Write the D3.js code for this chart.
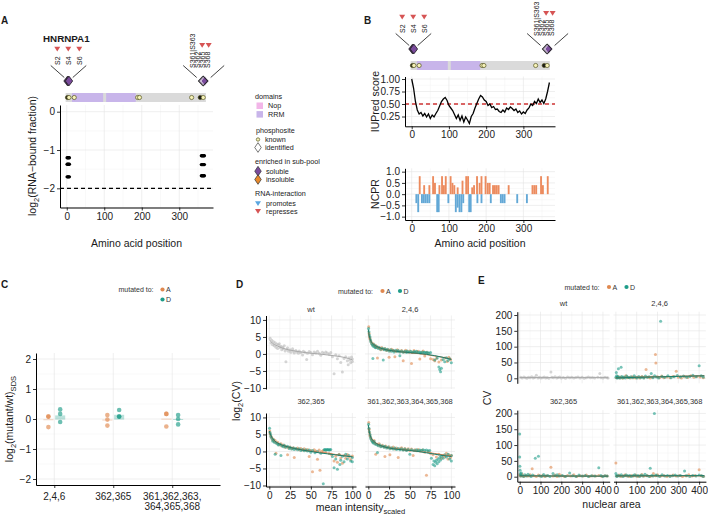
<!DOCTYPE html>
<html><head><meta charset="utf-8">
<script src="https://cdn.jsdelivr.net/npm/d3@7/dist/d3.min.js"></script>
<style>html,body{margin:0;padding:0;background:#fff}</style>
</head><body>
<svg id="fig" width="708" height="516" xmlns="http://www.w3.org/2000/svg"></svg>
<script>
// ===================== DATA =====================
const proteinName = "HNRNPA1";
const barRange = [-3, 371];
const rrmDomains = [[14, 97], [105, 184]];
const knownSites = [2, 6, 20, 189, 194, 333, 356, 364];
const knownDark = [true, false, false, false, false, false, true, false];
const leftSitePos = [2, 4, 6];
const leftSiteLabels = ["S2", "S4", "S6"];
const rightSitePos = [361, 362, 363, 365, 368];
const rightSiteLabels = ["S361|S363", "S362", "S365", "S368"];
const aaTicks = [0, 100, 200, 300];

// Panel A: log2(RNA-bound fraction)
const rnaLeftSites = [1, 3, 5, 7];
const rnaLeftValues = [-1.2, -1.37, -1.7];
const rnaRightSites = [359, 361, 363, 365, 367];
const rnaRightValues = [-1.15, -1.38, -1.67];
const rnaThreshold = -2;

// Legend A
const legendDomains = ["Nop", "RRM"];
const legendPhospho = ["known", "identified"];
const legendPool = ["soluble", "insoluble"];
const legendRna = ["promotes", "represses"];

// Panel B: IUPred
const iupredPos = [0,5,10,15,20,25,30,35,40,45,50,55,60,65,70,75,80,85,90,95,100,105,110,115,120,125,130,135,140,145,150,155,160,165,170,175,180,185,190,195,200,205,210,215,220,225,230,235,240,245,250,255,260,265,270,275,280,285,290,295,300,305,310,315,320,325,330,335,340,345,350,355,360,365,370];
const iupredScore = [1.0,0.82,0.55,0.38,0.30,0.33,0.26,0.31,0.24,0.30,0.21,0.28,0.24,0.31,0.37,0.46,0.55,0.60,0.63,0.57,0.47,0.42,0.37,0.29,0.21,0.28,0.17,0.26,0.14,0.24,0.18,0.11,0.25,0.31,0.42,0.51,0.60,0.67,0.64,0.58,0.55,0.47,0.50,0.43,0.45,0.39,0.40,0.35,0.33,0.38,0.34,0.42,0.39,0.44,0.41,0.37,0.40,0.33,0.36,0.30,0.34,0.31,0.38,0.42,0.50,0.47,0.55,0.51,0.60,0.53,0.58,0.51,0.60,0.75,0.93];
const iupredThreshold = 0.5;

// Panel B: NCPR blocks (start residue, value)
const ncprStart = [10,15,25,30,35,40,45,66,70,96,116,121,126,131,136,152,156,174,185,210,237,242,247,281,307,
  19,31,45,55,60,72,79,84,89,102,107,112,121,134,144,149,160,165,173,180,185,196,202,207,216,221,226,231,258,322,327,332,345,350,363];
const ncprValue = [-0.4,-0.8,-0.4,-0.4,-0.4,-0.4,-0.4,-0.8,-0.8,-0.4,-0.8,-0.6,-0.8,-0.8,-0.4,-0.8,-0.8,-0.4,-0.4,-0.4,-0.4,-0.4,-0.4,-0.4,-0.4,
  0.8,0.4,0.4,0.8,0.5,0.4,0.8,0.4,0.8,0.8,0.5,0.4,0.3,0.6,0.8,0.8,0.3,0.4,0.8,0.5,0.8,0.8,0.5,0.5,0.4,0.4,0.4,0.4,0.4,0.4,0.4,0.4,0.8,0.4,0.8];

// Panel C
const cGroups = ["2,4,6", "362,365", "361,362,363,|364,365,368"];
const cValuesA = [[0.08, 0.08, -0.27], [0.13, -0.02, -0.22], [0.17, 0.17, -0.25]];
const cValuesD = [[0.32, 0.17, -0.1], [0.3, 0.08, 0.08], [0.13, 0.0, -0.18]];
const cMeanA = [-0.02, -0.03, 0.0];
const cHalfA = [0.012, 0.012, 0.012];
const cMeanD = [0.05, 0.06, 0.0];
const cHalfD = [0.07, 0.08, 0.0];

// Panel D: log2(CV) vs mean intensity
const dWt = [[1,4.6],[2,3.2],[3,4.0],[4,2.7],[5,3.6],[6,2.4],[7,3.3],[8,2.0],[9,2.9],[10,1.6],[11,2.6],[12,3.0],[13,1.9],[14,2.3],[15,1.2],[16,2.0],[17,1.5],[18,2.4],[19,0.9],[20,-2.3],[21,1.4],[22,1.8],[23,0.8],[25,1.2],[26,0.5],[28,1.5],[29,0.9],[30,0.3],[32,1.0],[33,0.6],[35,0.2],[36,0.9],[38,0.4],[40,-0.3],[41,0.8],[43,0.5],[45,-1.6],[46,0.2],[48,0.7],[50,0.4],[52,-0.2],[54,0.6],[56,0.3],[58,0.8],[60,0.2],[62,-0.4],[64,0.5],[66,0.1],[68,0.6],[70,0.3],[72,-0.1],[74,0.4],[76,-0.8],[78,-5.8],[80,-0.2],[82,-1.4],[84,-0.5],[86,-2.5],[88,-5.3],[90,-1.3],[92,-0.8],[94,-2.0],[95,-3.2],[96,-1.1],[97,-1.8],[98,-2.6],[99,-0.9],[100,-1.5],[100,-2.2]];
const d246A = [[0.5,8],[1,6],[1.5,5],[2,4.5],[3,3.8],[4,3.2],[5,2.8],[6,3.0],[7,2.4],[8,2.2],[9,2.5],[10,1.9],[11,-1.2],[12,2.0],[14,1.7],[15,1.2],[16,1.9],[18,1.4],[20,1.6],[22,1.0],[24,1.3],[25,-1.0],[26,0.9],[28,1.4],[30,1.1],[32,-0.8],[33,0.7],[35,1.2],[37,0.8],[40,1.0],[42,-2.0],[43,0.6],[45,1.1],[47,0.7],[50,0.9],[52,-2.8],[53,0.5],[55,1.0],[58,0.6],[60,0.8],[62,-1.5],[64,0.4],[66,0.9],[68,-0.6],[70,0.5],[72,0.2],[75,-1.4],[78,-1.6],[80,-2.0],[82,-1.3],[85,-2.4],[88,-1.8],[92,-1.2],[95,-2.2],[97,-1.0],[99,-1.7]];
const d246D = [[0.3,7.5],[0.8,6.5],[1.2,5.6],[2,5.0],[2.5,4.2],[3,3.6],[4,3.0],[5,2.6],[5.5,-1.3],[6,2.3],[7,2.7],[8,2.0],[9,1.8],[10,2.2],[12,1.6],[13,1.9],[15,1.4],[17,1.7],[18,-1.8],[19,1.2],[20,1.5],[22,1.1],[23,1.4],[25,0.9],[27,1.2],[28,0.8],[30,1.0],[31,0.6],[33,1.1],[35,0.7],[36,1.0],[38,-0.5],[38,0.6],[40,0.9],[42,0.5],[44,0.8],[46,0.4],[47,0.9],[49,0.5],[51,0.8],[53,0.4],[55,0.7],[56,0.5],[58,0.8],[60,0.4],[62,0.6],[63,0.3],[65,0.6],[67,0.4],[68,0.5],[70,0.3],[71,0.5],[73,0.3],[75,0.4],[80,-1.8],[83,-1.2],[85,-3.8],[86,-4.6],[87,-5.2],[88,-4.2],[90,-1.6],[92,-2.3],[94,-1.1],[96,-1.9],[98,-1.4],[100,-2.6]];
const d362A = [[0.5,6.0],[1,5.2],[2,4.5],[3,4.0],[4,3.4],[5,3.6],[6,2.9],[7,3.2],[8,-0.5],[9,2.4],[10,2.7],[12,2.0],[14,2.3],[15,1.6],[17,1.9],[19,1.2],[20,1.5],[22,-1.0],[23,1.0],[25,1.3],[27,0.8],[29,1.1],[30,-1.8],[32,0.7],[34,1.0],[36,0.5],[38,0.9],[40,0.4],[42,0.8],[44,0.3],[46,0.6],[48,-1.5],[50,0.3],[52,-6.0],[54,0.5],[56,0.1],[58,-2.3],[60,0.4],[61,-5.5],[63,0.0],[65,0.3],[68,-0.3],[72,-0.6],[75,-1.0],[78,-2.8],[80,-1.4],[82,-3.2],[84,-0.8],[86,-1.9],[88,-3.5],[90,-1.2],[92,-2.0],[94,-0.9],[96,-1.6],[98,-2.4],[100,-1.3]];
const d362D = [[0.3,6.8],[0.8,5.6],[1.5,5.0],[2,4.3],[3,3.8],[4,3.1],[5,3.4],[6,2.7],[7,-0.8],[8,2.5],[10,2.2],[11,1.9],[13,2.1],[14,-1.2],[15,1.7],[17,1.4],[18,1.8],[20,1.2],[22,1.5],[24,0.9],[25,1.2],[27,0.7],[29,1.0],[30,0.6],[32,0.9],[34,0.5],[36,0.8],[38,0.3],[40,0.6],[42,0.2],[44,0.5],[46,0.1],[48,0.4],[50,-0.2],[52,0.3],[55,-0.4],[58,0.0],[62,-0.5],[65,-9.5],[66,0.5],[67,0.6],[68,0.4],[69,0.6],[70,0.5],[71,0.6],[72,0.4],[73,0.5],[74,0.6],[76,-1.5],[78,-4.8],[80,-2.2],[82,-5.2],[84,-1.0],[85,-3.8],[86,-2.6],[88,-1.4],[90,-3.0],[92,-0.8],[94,-2.2],[96,-1.2],[98,-2.8],[100,-1.8],[100,-3.0]];
const d361A = [[0.5,8.5],[1,6.5],[1.5,5.5],[2,4.6],[3,4.0],[4,3.5],[5,3.0],[6,2.8],[7,3.2],[8,2.4],[9,-0.8],[10,2.2],[12,1.9],[13,2.3],[15,1.5],[17,1.8],[19,1.3],[20,-1.5],[21,1.6],[23,1.1],[25,1.4],[26,-1.0],[28,0.9],[30,1.3],[32,0.7],[34,1.0],[36,-1.8],[38,0.8],[40,1.1],[42,0.5],[44,0.9],[46,0.4],[48,0.8],[50,0.3],[52,0.7],[54,-1.2],[56,0.5],[58,0.2],[60,0.6],[62,0.1],[65,0.4],[68,-0.2],[70,-7.0],[72,0.0],[75,-0.6],[78,-1.0],[82,-1.6],[85,-0.8],[88,-2.0],[90,-1.2],[92,-1.6],[94,-0.5],[96,-2.2],[97,-1.0],[99,-1.8],[100,-1.2]];
const d361D = [[0.3,8.0],[0.8,6.8],[1.2,5.8],[2,5.0],[2.5,4.3],[3,3.7],[4,3.2],[5,2.8],[6,2.5],[7,2.9],[8,2.2],[10,2.0],[11,-0.3],[12,1.7],[14,1.9],[15,1.4],[17,1.6],[19,1.2],[20,1.5],[22,1.0],[24,1.3],[26,0.8],[28,1.1],[30,0.7],[32,1.0],[34,0.6],[36,0.9],[38,0.5],[40,0.8],[42,0.4],[44,0.7],[46,0.3],[48,0.6],[50,-0.8],[52,0.5],[55,0.3],[58,0.5],[60,0.2],[62,0.4],[64,0.3],[66,0.5],[68,0.3],[70,0.4],[72,0.2],[74,0.3],[76,-2.0],[78,-3.8],[79,-2.8],[80,-4.2],[81,-3.2],[82,-2.6],[83,-3.6],[84,-2.2],[85,-3.0],[86,-1.8],[87,-2.5],[88,-1.4],[90,-2.0],[92,-1.0],[94,-1.6],[96,-0.8],[98,-2.2],[100,-1.2],[100,-2.8]];
const dFitX = [0,1,2,4,6,10,15,20,30,40,50,60,70,80,90,100];
const dFitWt = [4.2,3.9,3.6,3.1,2.8,2.3,1.8,1.4,0.9,0.5,0.2,0.0,-0.3,-0.6,-1.0,-1.7];
const dFit246A = [6.8,5.2,4.3,3.3,2.8,2.1,1.6,1.3,0.9,0.6,0.3,0.1,-0.2,-0.6,-1.0,-1.5];
const dFit246D = [7.2,5.5,4.5,3.4,2.9,2.2,1.7,1.3,0.9,0.6,0.4,0.2,-0.1,-0.5,-1.0,-1.6];
const dFit362A = [5.6,5.0,4.5,3.7,3.1,2.5,1.9,1.5,0.9,0.5,0.1,-0.2,-0.5,-0.9,-1.2,-1.5];
const dFit362D = [6.0,5.2,4.6,3.8,3.2,2.5,1.9,1.5,0.9,0.4,0.0,-0.4,-0.7,-1.0,-1.3,-1.6];
const dFit361A = [7.4,5.8,4.7,3.6,3.0,2.3,1.7,1.3,0.9,0.6,0.3,0.0,-0.3,-0.6,-1.0,-1.3];
const dFit361D = [7.8,6.0,4.9,3.7,3.1,2.3,1.7,1.3,0.8,0.5,0.3,0.0,-0.4,-0.8,-1.2,-1.5];

// Panel E: CV vs nuclear area
const eWt = [[5,3],[12,1],[20,4],[28,2],[35,0.5],[42,3],[50,1.5],[58,5],[65,0.8],[72,2.5],[80,10],[88,1.2],[95,3.5],[102,0.6],[110,2],[118,4],[125,1],[132,2.8],[140,0.4],[150,20],[155,3],[162,1.5],[170,5],[178,0.8],[185,2.2],[192,3.8],[200,1],[210,2.5],[220,0.5],[230,4],[240,1.8],[250,3],[260,0.7],[270,2.2],[280,4.5],[290,1.2],[300,3],[310,0.5],[320,2],[330,4],[340,1.5],[350,2.6],[360,0.8],[375,3.2],[385,15],[390,2],[400,1],[410,3.5],[420,1.8],[425,0.6]];
const e246A = [[3,2],[10,6],[18,1],[25,4],[33,0.5],[40,3],[48,8],[55,1.5],[62,2.5],[70,0.8],[78,5],[85,2],[95,1],[105,3.5],[115,1.2],[125,6],[135,2],[145,28],[155,3],[165,1],[175,4],[190,75],[192,48],[200,5],[210,2],[220,7],[230,1.5],[245,4],[260,2],[275,6],[290,22],[300,3],[315,1],[330,5],[345,2.5],[360,8],[375,3],[390,6],[405,4],[420,2]];
const e246D = [[0,3],[2,18],[4,8],[6,1],[8,5],[10,2],[12,30],[15,4],[20,1],[25,35],[28,6],[32,2],[38,4],[45,1],[52,7],[58,3],[65,1.5],[72,5],[80,2],[88,8],[95,3],[102,1],[110,6],[118,2],[126,4],[134,1],[142,7],[150,3],[160,5],[170,15],[178,2],[186,8],[195,4],[205,1],[215,180],[222,6],[235,3],[250,8],[265,2],[280,5],[295,9],[310,4],[325,7],[340,3],[355,6],[370,10],[385,5],[400,40],[410,8],[420,4]];
const e362A = [[0,5],[5,2],[12,8],[20,1],[30,4],[40,2],[50,6],[60,25],[70,3],[80,1],[90,5],[100,2],[110,4],[120,1],[130,3],[150,30],[160,2],[170,5],[180,1],[190,8],[200,3],[215,1],[230,4],[245,2],[260,6],[275,1],[290,3],[305,2],[320,5],[335,1],[350,3],[365,2],[380,4],[395,1],[410,3],[420,2]];
const e362D = [[0,135],[0,62],[1,33],[2,20],[3,10],[4,5],[5,2],[8,12],[12,4],[18,1],[25,6],[32,2],[40,8],[48,3],[55,1],[62,5],[75,58],[90,65],[95,3],[105,1],[115,7],[125,2],[135,4],[145,1],[160,10],[170,3],[180,6],[190,2],[205,4],[220,1],[240,12],[255,3],[270,1],[285,5],[300,2],[315,4],[330,1],[345,3],[360,2],[380,28],[390,4],[400,1],[410,3],[420,2]];
const e361A = [[0,43],[5,2],[15,5],[25,1],[35,3],[45,6],[55,2],[65,1],[75,4],[85,2],[95,5],[105,1],[115,3],[125,7],[135,2],[150,4],[165,1],[180,10],[190,3],[200,6],[215,2],[230,4],[245,1],[260,3],[275,5],[290,2],[305,4],[320,1],[335,3],[350,6],[365,2],[380,4],[400,22],[410,3],[420,1]];
const e361D = [[0,10],[2,3],[5,1],[10,4],[18,2],[26,6],[34,1],[42,3],[50,5],[58,2],[66,4],[74,1],[82,3],[90,6],[98,2],[106,4],[114,1],[122,5],[130,2],[140,8],[150,3],[160,1],[165,27],[172,4],[178,2],[185,200],[192,5],[200,3],[210,1],[222,6],[235,2],[248,4],[260,1],[272,3],[285,5],[298,2],[310,4],[330,18],[340,3],[355,1],[370,4],[385,2],[400,5],[412,3],[420,1]];
const eFitX = [0,100,200,300,400,425];
const eFitWt = [2.5,2.6,2.6,2.7,2.7,2.7];
const eFit246A = [2,3.5,5,6.5,8,8.5];
const eFit246D = [1.5,3,4.5,6,7.5,8];
const eFit362A = [2.2,2,1.9,1.8,1.7,1.7];
const eFit362D = [3,2.5,2.2,2,1.8,1.8];
const eFit361A = [2,2.2,2.4,2.6,2.8,2.9];
const eFit361D = [2.5,2.8,3,3.2,3.4,3.5];

const facetTitles = ["wt", "2,4,6", "362,365", "361,362,363,364,365,368"];
const mutLabels = ["A", "D"];

// ===================== STYLE =====================
const FONT = '"Liberation Sans", Arial, Helvetica, sans-serif';
const INK = "#1a1a1a";
const colA = "#E0884F", colD = "#1E9C89", colWt = "#b9b9b9";
const colRRM = "#c8b5ea", colNop = "#f2b6e8";
const colSol = "#7a4b9c", colInsol = "#e8892b", colProm = "#5aa6e0", colRep = "#d65454";
const colPos = "#EC8B5E", colNeg = "#63A8D6";

const svg = d3.select("#fig").attr("font-family", FONT);

function label(x, y, s, o = {}) {
  const t = svg.append("text").attr("x", x).attr("y", y).attr("font-size", o.size || 10)
    .attr("fill", o.fill || INK).attr("text-anchor", o.anchor || "start").text(s);
  if (o.weight) t.attr("font-weight", o.weight);
  if (o.rot) t.attr("transform", `rotate(${o.rot},${x},${y})`);
  return t;
}
function labelSub(x, y, parts, o = {}) {
  const fs = o.size || 10.5;
  const t = svg.append("text").attr("x", x).attr("y", y).attr("font-size", fs)
    .attr("fill", INK).attr("text-anchor", o.anchor || "middle");
  if (o.rot) t.attr("transform", `rotate(${o.rot},${x},${y})`);
  let sub = false;
  parts.forEach(([s, isSub]) => {
    const ts = t.append("tspan").text(s);
    if (isSub) ts.attr("font-size", fs * 0.72);
    if (isSub && !sub) ts.attr("dy", 2.8);
    if (!isSub && sub) ts.attr("dy", -2.8);
    sub = isSub;
  });
}
function grid(xs, ys, xMaj, xMin, yMaj, yMin) {
  const g = svg.append("g");
  const [xa, xb] = xs.range(), [ya, yb] = ys.range();
  const L = (x1, y1, x2, y2, c, w) => g.append("line").attr("x1", x1).attr("y1", y1).attr("x2", x2).attr("y2", y2).attr("stroke", c).attr("stroke-width", w);
  xMin.forEach(v => L(xs(v), ya, xs(v), yb, "#f3f3f3", 0.5));
  yMin.forEach(v => L(xa, ys(v), xb, ys(v), "#f3f3f3", 0.5));
  xMaj.forEach(v => L(xs(v), ya, xs(v), yb, "#e4e4e4", 0.6));
  yMaj.forEach(v => L(xa, ys(v), xb, ys(v), "#e4e4e4", 0.6));
}
function styleAxis(g, fs) {
  g.attr("font-family", FONT);
  g.select(".domain").attr("stroke", "#000").attr("stroke-width", 1);
  g.selectAll(".tick line").attr("stroke", "#000").attr("stroke-width", 0.8);
  g.selectAll(".tick text").attr("font-size", fs || 10).attr("fill", "#222");
}
function axisLeft(ys, x, ticks, fmt) {
  const g = svg.append("g").attr("transform", `translate(${x},0)`)
    .call(d3.axisLeft(ys).tickValues(ticks).tickFormat(fmt).tickSize(3).tickSizeOuter(0).tickPadding(2));
  styleAxis(g); return g;
}
function axisBottom(xs, y, ticks, fmt) {
  const g = svg.append("g").attr("transform", `translate(0,${y})`)
    .call(d3.axisBottom(xs).tickValues(ticks).tickFormat(fmt).tickSize(3).tickSizeOuter(0).tickPadding(2));
  styleAxis(g); return g;
}
const diamondPath = d3.symbol(d3.symbolDiamond, 30)();
const triPath = "M-3,-2.3L3,-2.3L0,2.5Z";
function diamond(x, y, fill, stroke, sx) {
  svg.append("path").attr("d", diamondPath).attr("transform", `translate(${x},${y}) scale(${sx || 1.25},0.95)`)
    .attr("fill", fill).attr("stroke", stroke).attr("stroke-width", 0.7);
}
function tri(x, y, fill) {
  svg.append("path").attr("d", triPath).attr("transform", `translate(${x},${y})`).attr("fill", fill);
}

// ===================== PROTEIN HEADER =====================
function proteinHeader(xs, barTop) {
  svg.append("rect").attr("x", xs(barRange[0])).attr("y", barTop).attr("width", xs(barRange[1]) - xs(barRange[0]))
    .attr("height", 9).attr("fill", "#dadada");
  rrmDomains.forEach(d => svg.append("rect").attr("x", xs(d[0])).attr("y", barTop).attr("width", xs(d[1]) - xs(d[0]))
    .attr("height", 9).attr("fill", colRRM));
  knownSites.forEach((s, i) => svg.append("circle").attr("cx", xs(s)).attr("cy", barTop + 4.5).attr("r", 2.1)
    .attr("fill", knownDark[i] ? "#1a1a1a" : "#f6f2b8").attr("stroke", "#55551f").attr("stroke-width", 0.7));
  const cy = barTop - 12;
  const lx = d3.mean(leftSitePos, p => xs(p));
  const rx = d3.mean(rightSitePos, p => xs(p));
  const seg = (x1, y1, x2, y2) => svg.append("line").attr("x1", x1).attr("y1", y1).attr("x2", x2).attr("y2", y2).attr("stroke", "#111").attr("stroke-width", 0.8);
  seg(lx - 17.5, cy - 15.5, lx - 4, cy - 3.5); seg(lx + 18, cy - 15.5, lx + 4.5, cy - 3.5);
  seg(rx - 20, cy - 15.5, rx - 6.5, cy - 3.5); seg(rx + 21, cy - 15.5, rx + 7.5, cy - 3.5);
  leftSitePos.forEach(p => diamond(xs(p), cy, colSol, "#222"));
  rightSitePos.forEach(p => diamond(xs(p), cy, colSol, "#eee"));
  diamond(rx, cy, "none", "#222", 1.6);
  const lOff = [-11, 0, 11];
  leftSiteLabels.forEach((s, i) => {
    label(lx + lOff[i] + 2.5, barTop - 28, s, { size: 7, rot: -90 });
    tri(lx + lOff[i], barTop - 44, colRep);
  });
  const rOff = [-11, -5.5, -0.5, 4.5];
  rightSiteLabels.forEach((s, i) => label(rx + rOff[i] + 2.5, barTop - 25, s, { size: 7, rot: -90 }));
  [-1, 5.5].forEach(o => tri(rx + o, barTop - 47.7, colRep));
}

// ===================== PANEL A =====================
label(1, 24, "A", { size: 10, weight: "bold" });
label(43, 41.7, proteinName, { size: 9.8, weight: "bold" });
const xA = d3.scaleLinear().domain([-18, 390]).range([60, 213]);
const yA = d3.scaleLinear().domain([-2.5, 0.175]).range([207.5, 105]);
proteinHeader(xA, 93);
grid(xA, yA, aaTicks, [50, 150, 250, 350], [0, -1, -2], [-0.5, -1.5, -2.5]);
svg.append("line").attr("x1", 60).attr("x2", 213).attr("y1", yA(rnaThreshold)).attr("y2", yA(rnaThreshold))
  .attr("stroke", "#000").attr("stroke-width", 1.2).attr("stroke-dasharray", "4,3");
rnaLeftValues.forEach(v => rnaLeftSites.forEach(s => svg.append("circle").attr("cx", xA(s)).attr("cy", yA(v)).attr("r", 1.7).attr("fill", "#000")));
rnaRightValues.forEach(v => rnaRightSites.forEach(s => svg.append("circle").attr("cx", xA(s)).attr("cy", yA(v)).attr("r", 1.7).attr("fill", "#000")));
axisLeft(yA, 60, [0, -1, -2], d3.format("d"));
axisBottom(xA, 207.5, aaTicks, d3.format("d"));
labelSub(36, 156, [["log", false], ["2", true], ["(RNA\u2212bound fraction)", false]], { rot: -90 });
label(136.5, 246.5, "Amino acid position", { size: 10.5, anchor: "middle" });

// Legend A
(function () {
  const fs = 7.2;
  label(255, 99, "domains", { size: fs });
  const sw = [colNop, colRRM];
  legendDomains.forEach((s, i) => {
    svg.append("rect").attr("x", 256.5).attr("y", 102.5 + i * 8.6).attr("width", 6.5).attr("height", 6.5).attr("fill", sw[i]);
    label(268, 108 + i * 8.8, s, { size: fs });
  });
  label(256, 132.5, "phosphosite", { size: fs });
  svg.append("circle").attr("cx", 258).attr("cy", 139.5).attr("r", 1.7).attr("fill", "#f6f2b8").attr("stroke", "#55551f").attr("stroke-width", 0.7);
  label(265, 142, legendPhospho[0], { size: fs });
  diamond(258, 147.5, "none", "#444", 1.1);
  label(265, 150, legendPhospho[1], { size: fs });
  label(255, 164, "enriched in sub-pool", { size: fs });
  diamond(258, 171.2, colSol, "#333", 1.1);
  label(266, 173.8, legendPool[0], { size: fs });
  diamond(258, 179.5, colInsol, "#333", 1.1);
  label(266, 182, legendPool[1], { size: fs });
  label(255, 196, "RNA-interaction", { size: fs });
  tri(258, 203.5, colProm);
  label(266, 206, legendRna[0], { size: fs });
  tri(258, 211.2, colRep);
  label(266, 213.8, legendRna[1], { size: fs });
})();

// ===================== PANEL B =====================
label(364, 24, "B", { size: 10, weight: "bold" });
const xB = d3.scaleLinear().domain([-18, 385]).range([405, 555]);
proteinHeader(xB, 61);
const yIU = d3.scaleLinear().domain([0.054, 1.05]).range([126.3, 76.5]);
grid(xB, yIU, aaTicks, [50, 150, 250, 350], [0.25, 0.5, 0.75, 1.0], [0.125, 0.375, 0.625, 0.875]);
svg.append("line").attr("x1", 405).attr("x2", 555).attr("y1", yIU(iupredThreshold)).attr("y2", yIU(iupredThreshold))
  .attr("stroke", "#cf3535").attr("stroke-width", 1.3).attr("stroke-dasharray", "4,3");
svg.append("path").datum(iupredPos.map((p, i) => [p, iupredScore[i]]))
  .attr("d", d3.line().x(d => xB(d[0])).y(d => yIU(d[1]))).attr("fill", "none").attr("stroke", "#000").attr("stroke-width", 1.3);
axisLeft(yIU, 405, [0.25, 0.5, 0.75, 1.0], d3.format(".2f"));
axisBottom(xB, 126.3, aaTicks, d3.format("d"));
label(378.5, 101.5, "IUPred score", { size: 10.5, anchor: "middle", rot: -90 });

const yNC = d3.scaleLinear().domain([-1.15, 1.15]).range([220, 168.3]);
grid(xB, yNC, aaTicks, [50, 150, 250, 350], [-1, -0.5, 0, 0.5, 1], [-0.75, -0.25, 0.25, 0.75]);
ncprStart.forEach((s, i) => {
  const v = ncprValue[i];
  svg.append("rect").attr("x", xB(s)).attr("width", xB(s + 5) - xB(s))
    .attr("y", yNC(Math.max(v, 0))).attr("height", Math.abs(yNC(v) - yNC(0)))
    .attr("fill", v > 0 ? colPos : colNeg);
});
axisLeft(yNC, 405, [-1, -0.5, 0, 0.5, 1], d3.format(".1f"));
axisBottom(xB, 220, aaTicks, d3.format("d"));
label(378.5, 194, "NCPR", { size: 10.5, anchor: "middle", rot: -90 });
label(480, 246.5, "Amino acid position", { size: 10.5, anchor: "middle" });

// ===================== mutated-to legend =====================
function mutLegend(x, y, vertical) {
  label(x, y + 2.5, "mutated to:", { size: 7, fill: "#333" });
  const cols = [colA, colD];
  mutLabels.forEach((m, i) => {
    const dx = vertical ? 0 : i * 17.5, dy = vertical ? i * 10 : 0;
    const cx = x + (vertical ? 44 : 44.5) + dx;
    svg.append("circle").attr("cx", cx).attr("cy", y + dy).attr("r", 2.1).attr("fill", cols[i]);
    label(cx + 3.5, y + dy + 2.5, m, { size: 7, fill: "#333" });
  });
}

// ===================== PANEL C =====================
label(1, 288, "C", { size: 10, weight: "bold" });
mutLegend(118.5, 289.5, true);
const xC = d3.scaleLinear().domain([0.69, 3.81]).range([36, 220]);
const yC = d3.scaleLinear().domain([-2.2, 2.2]).range([485, 353]);
grid(xC, yC, [1, 2, 3], [], [-2, -1, 0, 1, 2], [-1.5, -0.5, 0.5, 1.5]);
const dodge = 0.1, half = 0.085;
cGroups.forEach((g, i) => {
  const xa = i + 1 - dodge, xd = i + 1 + dodge;
  svg.append("rect").attr("x", xC(xa - half)).attr("width", xC(xa + half) - xC(xa - half))
    .attr("y", yC(cMeanA[i] + cHalfA[i])).attr("height", Math.max(1, yC(cMeanA[i] - cHalfA[i]) - yC(cMeanA[i] + cHalfA[i])))
    .attr("fill", colA).attr("opacity", 0.35);
  svg.append("rect").attr("x", xC(xd - half)).attr("width", xC(xd + half) - xC(xd - half))
    .attr("y", yC(cMeanD[i] + cHalfD[i])).attr("height", Math.max(1, yC(cMeanD[i] - cHalfD[i]) - yC(cMeanD[i] + cHalfD[i])))
    .attr("fill", colD).attr("opacity", 0.3);
  cValuesA[i].forEach(v => svg.append("circle").attr("cx", xC(xa)).attr("cy", yC(v)).attr("r", 2.3).attr("fill", colA).attr("opacity", 0.65));
  cValuesD[i].forEach(v => svg.append("circle").attr("cx", xC(xd)).attr("cy", yC(v)).attr("r", 2.3).attr("fill", colD).attr("opacity", 0.65));
});
axisLeft(yC, 36, [-2, -1, 0, 1, 2], d3.format("d"));
axisBottom(xC, 485, [1, 2, 3], () => "");
cGroups.forEach((g, i) => {
  const lines = g.split("|");
  lines.forEach((ln, j) => label(xC(i + 1), 500 + j * 10.2, ln, { size: 10, anchor: "middle", fill: "#222" }));
});
labelSub(13, 419, [["log", false], ["2", true], ["(mutant/wt)", false], ["SDS", true]], { rot: -90 });

// ===================== facet helper =====================
function drawFacet(f, cfg) {
  const xs = d3.scaleLinear().domain(cfg.xd).range(f.xr);
  const ys = d3.scaleLinear().domain(cfg.yd).range(f.yr);
  grid(xs, ys, cfg.xMaj, cfg.xMin, cfg.yMaj, cfg.yMin);
  const id = "clip" + Math.round(f.xr[0]) + "_" + Math.round(f.yr[0]);
  svg.append("clipPath").attr("id", id).append("rect").attr("x", f.xr[0]).attr("y", f.yr[1])
    .attr("width", f.xr[1] - f.xr[0]).attr("height", f.yr[0] - f.yr[1]);
  const g = svg.append("g").attr("clip-path", `url(#${id})`);
  f.pts.forEach(([arr, col]) => arr.forEach(d => g.append("circle").attr("cx", xs(d[0])).attr("cy", ys(d[1]))
    .attr("r", 1.5).attr("fill", col).attr("opacity", 0.6)));
  f.fits.forEach(([arr, col]) => g.append("path").datum(cfg.fitX.map((x, i) => [x, arr[i]]))
    .attr("d", d3.line().curve(d3.curveMonotoneX).x(d => xs(d[0])).y(d => ys(d[1])))
    .attr("fill", "none").attr("stroke", col).attr("stroke-width", 1));
  label((f.xr[0] + f.xr[1]) / 2, f.ty, f.title, { size: 7.5, anchor: "middle", fill: "#333" });
  if (f.yAx) axisLeft(ys, f.xr[0], cfg.yMaj, d3.format("d"));
  if (f.xAx) axisBottom(xs, f.yr[0], cfg.xMaj, d3.format("d"));
}

// ===================== PANEL D =====================
label(236, 288, "D", { size: 10, weight: "bold" });
mutLegend(338, 291, false);
const dCfg = { xd: [-4, 104.4], yd: [-10.3, 11.3], xMaj: [0, 25, 50, 75, 100], xMin: [12.5, 37.5, 62.5, 87.5],
  yMaj: [-10, -5, 0, 5, 10], yMin: [-7.5, -2.5, 2.5, 7.5], fitX: dFitX };
const colDline = "#1a7f6e", colAline = "#c9794a";
[
  { title: facetTitles[0], xr: [266, 356], yr: [389, 315.5], ty: 311.5, pts: [[dWt, colWt]], fits: [[dFitWt, "#aaaaaa"]], yAx: true, xAx: false },
  { title: facetTitles[1], xr: [365, 455], yr: [389, 315.5], ty: 311.5, pts: [[d246A, colA], [d246D, colD]], fits: [[dFit246A, colAline], [dFit246D, colDline]], yAx: false, xAx: false },
  { title: facetTitles[2], xr: [266, 356], yr: [486.5, 413], ty: 403.5, pts: [[d362A, colA], [d362D, colD]], fits: [[dFit362A, colAline], [dFit362D, colDline]], yAx: true, xAx: true },
  { title: facetTitles[3], xr: [365, 455], yr: [486.5, 413], ty: 403.5, pts: [[d361A, colA], [d361D, colD]], fits: [[dFit361A, colAline], [dFit361D, colDline]], yAx: false, xAx: true }
].forEach(f => drawFacet(f, dCfg));
labelSub(240, 401, [["log", false], ["2", true], ["(CV)", false]], { rot: -90 });
labelSub(360.5, 511, [["mean intensity", false], ["scaled", true]], {});

// ===================== PANEL E =====================
label(478, 284, "E", { size: 10, weight: "bold" });
mutLegend(564.5, 287, false);
const eCfg = { xd: [-11.5, 432.5], yd: [-15.8, 210.5], xMaj: [0, 100, 200, 300, 400], xMin: [50, 150, 250, 350],
  yMaj: [0, 50, 100, 150, 200], yMin: [25, 75, 125, 175], fitX: eFitX };
[
  { title: facetTitles[0], xr: [517.3, 609.7], yr: [383.3, 311.7], ty: 305.8, pts: [[eWt, colWt]], fits: [[eFitWt, "#aaaaaa"]], yAx: true, xAx: false },
  { title: facetTitles[1], xr: [613.5, 705.9], yr: [383.3, 311.7], ty: 305.8, pts: [[e246A, colA], [e246D, colD]], fits: [[eFit246A, colAline], [eFit246D, colDline]], yAx: false, xAx: false },
  { title: facetTitles[2], xr: [517.3, 609.7], yr: [481.7, 410.1], ty: 404.2, pts: [[e362A, colA], [e362D, colD]], fits: [[eFit362A, colAline], [eFit362D, colDline]], yAx: true, xAx: true },
  { title: facetTitles[3], xr: [613.5, 705.9], yr: [481.7, 410.1], ty: 404.2, pts: [[e361A, colA], [e361D, colD]], fits: [[eFit361A, colAline], [eFit361D, colDline]], yAx: false, xAx: true }
].forEach(f => drawFacet(f, eCfg));
label(491, 398, "CV", { size: 10.5, anchor: "middle", rot: -90 });
label(611.5, 508, "nuclear area", { size: 10.5, anchor: "middle" });
</script>
</body></html>
